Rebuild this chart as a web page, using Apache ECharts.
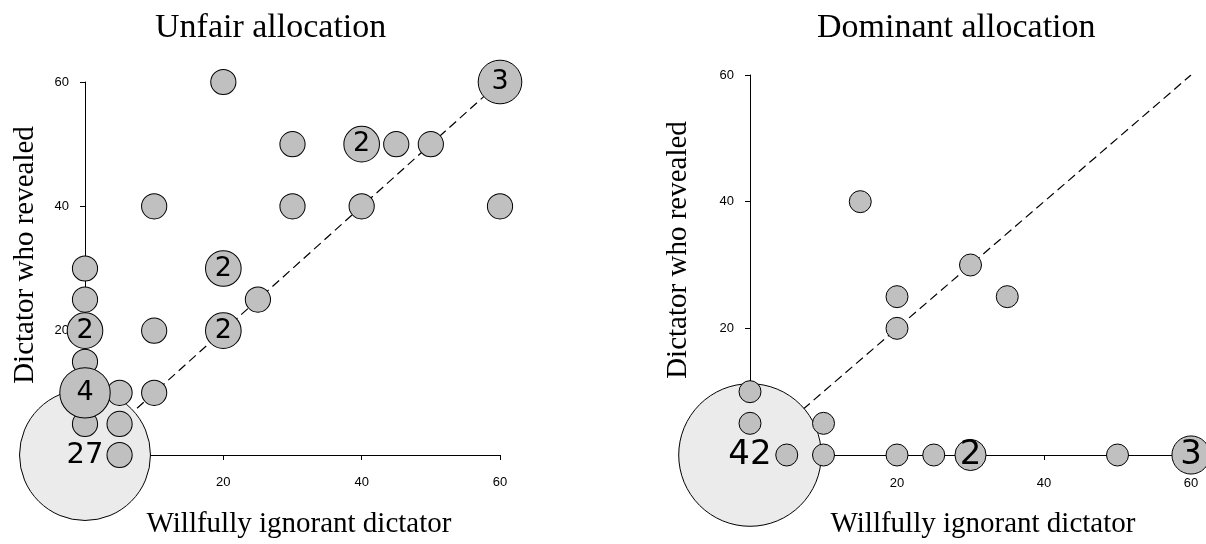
<!DOCTYPE html>
<html>
<head>
<meta charset="utf-8">
<script src="https://cdn.jsdelivr.net/npm/echarts@6/dist/echarts.min.js"></script>
<style>html,body{margin:0;padding:0;background:#fff}#c{width:1206px;height:544px}</style>
</head>
<body>
<div id="c"></div>
<script>
// Panel titles and axis names
const panelTitles = ['Unfair allocation', 'Dominant allocation'];
const xAxisName = 'Willfully ignorant dictator';
const yAxisName = 'Dictator who revealed';
const tickValues = [0, 20, 40, 60];

// Unfair allocation: (x, y, count)
const unfairX = [0, 0, 5, 5, 5, 10, 0, 0, 0, 10, 25, 10, 30, 40, 60, 20, 30, 45, 50, 0, 20, 20, 40, 60, 0];
const unfairY = [0, 5, 5, 10, 0, 10, 15, 25, 30, 20, 25, 40, 40, 40, 40, 60, 50, 50, 50, 20, 20, 30, 50, 60, 10];
const unfairN = [27, 1, 1, 1, 1, 1, 1, 1, 1, 1, 1, 1, 1, 1, 1, 1, 1, 1, 1, 2, 2, 2, 2, 3, 4];

// Dominant allocation: (x, y, count)
const dominantX = [0, 0, 0, 5, 10, 10, 20, 25, 50, 20, 20, 15, 30, 35, 30, 60];
const dominantY = [0, 10, 5, 0, 0, 5, 0, 0, 0, 20, 25, 40, 30, 25, 0, 0];
const dominantN = [42, 1, 1, 1, 1, 1, 1, 1, 1, 1, 1, 1, 1, 1, 2, 3];

// Reference diagonal
const diagonal = [[0, 0], [60, 60]];

function build(xs, ys, ns) {
  return xs.map((x, i) => [x, ys[i], ns[i]]);
}

const axisLineStyle = { color: '#000', width: 1 };
const tickLabel = {
  fontFamily: 'Liberation Sans', fontSize: 13, color: '#000',
  formatter: v => (tickValues.indexOf(v) > 0 ? String(v) : '')
};

function xAxis(gridIndex, gapPad, margin) {
  return {
    type: 'value', gridIndex, min: 0, max: 60, interval: 20,
    splitLine: { show: false },
    axisLine: { lineStyle: axisLineStyle },
    axisTick: { length: 5, lineStyle: axisLineStyle },
    axisLabel: Object.assign({ margin }, tickLabel),
    name: xAxisName, nameLocation: 'middle', nameGap: 55,
    nameTextStyle: { fontFamily: 'Liberation Serif', fontSize: 29, color: '#000', padding: [0, 0, 0, gapPad] }
  };
}
function yAxis(gridIndex, nameGap, pad) {
  return {
    type: 'value', gridIndex, min: 0, max: 60, interval: 20,
    splitLine: { show: false },
    axisLine: { lineStyle: axisLineStyle },
    axisTick: { length: 5, lineStyle: axisLineStyle },
    axisLabel: Object.assign({ margin: 16 }, tickLabel),
    name: yAxisName, nameLocation: 'middle', nameGap,
    nameTextStyle: { fontFamily: 'Liberation Serif', fontSize: 29, color: '#000', padding: [0, 0, 0, pad] }
  };
}

function bubbleSeries(idx, data, unit, fontSize, bigFont) {
  return {
    type: 'scatter', xAxisIndex: idx, yAxisIndex: idx, z: 3,
    data: data,
    clip: false,
    symbolSize: v => 2 * unit * Math.sqrt(v[2]),
    itemStyle: {
      color: p => (p.value[2] > 5 ? '#ebebeb' : '#c0c0c0'),
      borderColor: '#000', borderWidth: 1, opacity: 1
    },
    label: {
      show: true, position: 'inside', color: '#000',
      fontFamily: 'DejaVu Sans',
      fontSize: fontSize,
      rich: { b: { fontFamily: 'DejaVu Sans', fontSize: bigFont, color: '#000' } },
      formatter: p => (p.value[2] > 5 ? '{b|' + p.value[2] + '}' : (p.value[2] > 1 ? String(p.value[2]) : ''))
    },
    emphasis: { disabled: true },
    silent: true
  };
}
function diagSeries(idx) {
  return {
    type: 'line', xAxisIndex: idx, yAxisIndex: idx, z: 1,
    data: diagonal, symbol: 'none', silent: true,
    lineStyle: { color: '#000', width: 1.2, type: [9, 5] }
  };
}

const chart = echarts.init(document.getElementById('c'), null, { renderer: 'canvas' });
chart.setOption({
  animation: false,
  backgroundColor: '#fff',
  title: [
    { text: panelTitles[0], left: 155, top: 11, padding: 0,
      textStyle: { fontFamily: 'Liberation Serif', fontSize: 34, fontWeight: 'normal', color: '#000' } },
    { text: panelTitles[1], left: 817, top: 11, padding: 0,
      textStyle: { fontFamily: 'Liberation Serif', fontSize: 34, fontWeight: 'normal', color: '#000' } }
  ],
  grid: [
    { left: 85, top: 82, width: 415, height: 375 },
    { left: 750, top: 75, width: 441, height: 383 }
  ],
  xAxis: [xAxis(0, 13, 21), xAxis(1, 25, 22)],
  yAxis: [yAxis(0, 45, 27), yAxis(1, 57, 30)],
  series: [
    diagSeries(0),
    bubbleSeries(0, build(unfairX, unfairY, unfairN), 12.6, 27, 29),
    diagSeries(1),
    bubbleSeries(1, build(dominantX, dominantY, dominantN), 11, 34, 34)
  ]
});
</script>
</body>
</html>
